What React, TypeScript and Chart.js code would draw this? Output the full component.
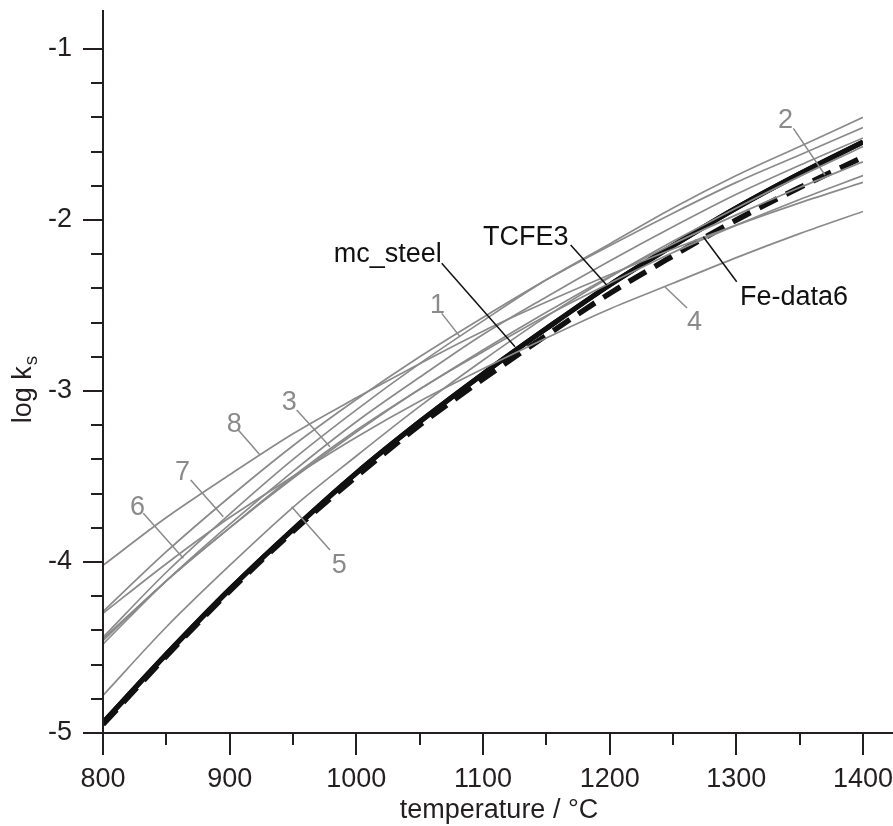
import { useEffect, useRef } from "react";
import { Chart, registerables } from "chart.js";

Chart.register(...registerables);

// temperature / °C
const temps = [800, 850, 900, 950, 1000, 1050, 1100, 1150, 1200, 1250, 1300, 1350, 1400];

// gray curves 1..8 (log ks)
const curve1 = [-4.29, -3.94, -3.62, -3.32, -3.05, -2.8, -2.57, -2.35, -2.15, -1.96, -1.78, -1.62, -1.46];
const curve2 = [-4.46, -4.11, -3.8, -3.5, -3.23, -2.99, -2.76, -2.54, -2.33, -2.14, -1.97, -1.81, -1.66];
const curve3 = [-4.48, -4.11, -3.78, -3.47, -3.18, -2.92, -2.67, -2.45, -2.24, -2.04, -1.85, -1.68, -1.52];
const curve4 = [-4.3, -4.01, -3.74, -3.5, -3.27, -3.06, -2.87, -2.69, -2.52, -2.37, -2.22, -2.08, -1.95];
const curve5 = [-4.78, -4.38, -4.02, -3.68, -3.38, -3.09, -2.82, -2.565, -2.335, -2.125, -1.93, -1.745, -1.57];
const curve6 = [-4.44, -4.06, -3.72, -3.4, -3.11, -2.84, -2.59, -2.35, -2.14, -1.93, -1.74, -1.57, -1.4];
const curve7 = [-4.45, -4.11, -3.8, -3.51, -3.24, -2.99, -2.77, -2.56, -2.37, -2.19, -2.03, -1.88, -1.74];
const curve8 = [-4.02, -3.74, -3.49, -3.25, -3.04, -2.84, -2.65, -2.48, -2.32, -2.17, -2.03, -1.9, -1.78];

// black curves
const mcSteel = [-4.94, -4.54, -4.16, -3.81, -3.48, -3.18, -2.9, -2.635, -2.38, -2.15, -1.93, -1.73, -1.544];
const tcfe3 = [-4.94, -4.54, -4.16, -3.81, -3.48, -3.18, -2.9, -2.635, -2.38, -2.15, -1.93, -1.73, -1.544];
const feData6 = [-4.95, -4.55, -4.17, -3.82, -3.5, -3.2, -2.93, -2.675, -2.43, -2.21, -2.0, -1.81, -1.632];

// axes
const xMajorTicks = [800, 900, 1000, 1100, 1200, 1300, 1400];
const xMinorTicks = [850, 950, 1050, 1150, 1250, 1350];
const yMajorTicks = [-5, -4, -3, -2, -1];
const yMinorTicks = [-4.8, -4.6, -4.4, -4.2, -3.8, -3.6, -3.4, -3.2, -2.8, -2.6, -2.4, -2.2, -1.8, -1.6, -1.4, -1.2];

// curve labels: text position (data), leader from (x1,y1) to (x2,y2), in data units
const grayLabels = [
  { text: "1", tx: 1058.2, ty: -2.544, x1: 1067.4, y1: -2.546, x2: 1081.8, y2: -2.682 },
  { text: "2", tx: 1332.9, ty: -1.462, x1: 1345.0, y1: -1.464, x2: 1370.0, y2: -1.737 },
  { text: "3", tx: 941.1, ty: -3.111, x1: 952.9, y1: -3.111, x2: 979.2, y2: -3.326 },
  { text: "4", tx: 1261.1, ty: -2.643, x1: 1261.1, y1: -2.515, x2: 1243.7, y2: -2.392 },
  { text: "5", tx: 980.5, ty: -4.064, x1: 979.2, y1: -3.93, x2: 948.9, y2: -3.677 },
  { text: "6", tx: 821.3, ty: -3.725, x1: 831.8, y1: -3.715, x2: 863.4, y2: -3.978 },
  { text: "7", tx: 856.8, ty: -3.52, x1: 869.2, y1: -3.52, x2: 895.0, y2: -3.735 },
  { text: "8", tx: 897.7, ty: -3.24, x1: 906.8, y1: -3.228, x2: 924.0, y2: -3.374 },
];
const blackLabels = [
  { text: "mc_steel", align: "right", tx: 1067.4, ty: -2.246, x1: 1067.4, y1: -2.253, x2: 1125.3, y2: -2.741 },
  { text: "TCFE3", align: "left", tx: 1100.0, ty: -2.146, x1: 1169.2, y1: -2.146, x2: 1197.6, y2: -2.38 },
  { text: "Fe-data6", align: "left", tx: 1302.9, ty: -2.497, x1: 1300.3, y1: -2.361, x2: 1273.9, y2: -2.098 },
];

const FONT = '"Liberation Sans", Arial, Helvetica, sans-serif';
const GRAY = "#8a8a8a";
const INK = "#231f20";
const FS = 27;

const pts = (vals: number[]) => temps.map((t, i) => ({ x: t, y: vals[i] }));

const grayDs = (vals: number[], name: string) => ({
  label: name,
  data: pts(vals),
  borderColor: GRAY,
  borderWidth: 1.7,
  pointRadius: 0,
  cubicInterpolationMode: "monotone" as const,
  fill: false,
});

const zeroPad = (s: any) => {
  s.paddingLeft = 0;
  s.paddingRight = 0;
  s.paddingTop = 0;
  s.paddingBottom = 0;
};

const decorPlugin = {
  id: "decor",
  afterDraw(chart: any) {
    const ctx = chart.ctx as CanvasRenderingContext2D;
    const xs = chart.scales.x;
    const ys = chart.scales.y;
    const { left, top, bottom } = chart.chartArea;
    ctx.save();
    ctx.lineCap = "butt";
    ctx.strokeStyle = INK;
    ctx.lineWidth = 2;
    // axis lines
    ctx.beginPath();
    ctx.moveTo(left, top);
    ctx.lineTo(left, bottom);
    ctx.moveTo(left, bottom);
    ctx.lineTo(chart.width, bottom);
    ctx.stroke();
    // ticks
    ctx.beginPath();
    xMajorTicks.forEach((v) => {
      const p = Math.round(xs.getPixelForValue(v));
      ctx.moveTo(p, bottom);
      ctx.lineTo(p, bottom + 22);
    });
    xMinorTicks.forEach((v) => {
      const p = Math.round(xs.getPixelForValue(v));
      ctx.moveTo(p, bottom);
      ctx.lineTo(p, bottom + 12);
    });
    yMajorTicks.forEach((v) => {
      const p = Math.round(ys.getPixelForValue(v));
      ctx.moveTo(left, p);
      ctx.lineTo(left - 20, p);
    });
    yMinorTicks.forEach((v) => {
      const p = Math.round(ys.getPixelForValue(v));
      ctx.moveTo(left, p);
      ctx.lineTo(left - 12, p);
    });
    ctx.stroke();

    // curve labels
    ctx.font = `${FS}px ${FONT}`;
    ctx.textBaseline = "alphabetic";
    ctx.lineWidth = 1.5;
    grayLabels.forEach((l) => {
      ctx.strokeStyle = GRAY;
      ctx.fillStyle = GRAY;
      ctx.beginPath();
      ctx.moveTo(xs.getPixelForValue(l.x1), ys.getPixelForValue(l.y1));
      ctx.lineTo(xs.getPixelForValue(l.x2), ys.getPixelForValue(l.y2));
      ctx.stroke();
      ctx.textAlign = "left";
      ctx.fillText(l.text, xs.getPixelForValue(l.tx), ys.getPixelForValue(l.ty));
    });
    blackLabels.forEach((l) => {
      ctx.strokeStyle = "#111";
      ctx.fillStyle = "#111";
      ctx.beginPath();
      ctx.moveTo(xs.getPixelForValue(l.x1), ys.getPixelForValue(l.y1));
      ctx.lineTo(xs.getPixelForValue(l.x2), ys.getPixelForValue(l.y2));
      ctx.stroke();
      ctx.textAlign = l.align as CanvasTextAlign;
      ctx.fillText(l.text, xs.getPixelForValue(l.tx), ys.getPixelForValue(l.ty));
    });

    // axis titles
    ctx.fillStyle = INK;
    ctx.textAlign = "center";
    ctx.font = `${FS}px ${FONT}`;
    ctx.fillText("temperature / °C", 499, 818);

    ctx.translate(31, 390);
    ctx.rotate(-Math.PI / 2);
    const main = "log k";
    ctx.font = `${FS}px ${FONT}`;
    const w1 = ctx.measureText(main).width;
    ctx.font = `19px ${FONT}`;
    const w2 = ctx.measureText("s").width;
    const start = -(w1 + w2) / 2;
    ctx.textAlign = "left";
    ctx.font = `${FS}px ${FONT}`;
    ctx.fillText(main, start, 0);
    ctx.font = `19px ${FONT}`;
    ctx.fillText("s", start + w1 + 1, 6);
    ctx.restore();
  },
};

export default function App() {
  const ref = useRef<HTMLCanvasElement | null>(null);
  useEffect(() => {
    if (!ref.current) return;
    const chart = new Chart(ref.current, {
      type: "line",
      data: {
        datasets: [
          grayDs(curve1, "1"),
          grayDs(curve2, "2"),
          grayDs(curve3, "3"),
          grayDs(curve4, "4"),
          grayDs(curve5, "5"),
          grayDs(curve6, "6"),
          grayDs(curve7, "7"),
          grayDs(curve8, "8"),
          {
            label: "Fe-data6",
            data: pts(feData6),
            borderColor: "#111",
            borderWidth: 5.5,
            borderDash: [20, 10],
            pointRadius: 0,
            cubicInterpolationMode: "monotone",
            fill: false,
          },
          {
            label: "TCFE3",
            data: pts(tcfe3),
            borderColor: "#111",
            borderWidth: 5,
            pointRadius: 0,
            cubicInterpolationMode: "monotone",
            fill: false,
          },
          {
            label: "mc_steel",
            data: pts(mcSteel),
            borderColor: "#111",
            borderWidth: 5,
            pointRadius: 0,
            cubicInterpolationMode: "monotone",
            fill: false,
          },
        ] as any,
      },
      options: {
        animation: false,
        responsive: false,
        layout: { padding: { left: 0, right: 30, top: 10, bottom: 0 } },
        plugins: { legend: { display: false }, tooltip: { enabled: false } },
        scales: {
          x: {
            type: "linear",
            min: 800,
            max: 1400,
            grid: { display: false, drawTicks: false },
            border: { display: false },
            afterBuildTicks: (s: any) => {
              s.ticks = xMajorTicks.map((v) => ({ value: v }));
            },
            afterFit: (s: any) => {
              s.height = 93;
              zeroPad(s);
            },
            ticks: {
              font: { size: FS, family: FONT },
              color: INK,
              padding: 30,
              maxRotation: 0,
              autoSkip: false,
              callback: (v: any) => String(v),
            },
          },
          y: {
            type: "linear",
            min: -5,
            max: -0.772,
            grid: { display: false, drawTicks: false },
            border: { display: false },
            afterBuildTicks: (s: any) => {
              s.ticks = yMajorTicks.map((v) => ({ value: v }));
            },
            afterFit: (s: any) => {
              s.width = 103;
              zeroPad(s);
            },
            ticks: {
              font: { size: FS, family: FONT },
              color: INK,
              padding: 31,
              autoSkip: false,
              callback: (v: any) => String(v),
            },
          },
        },
      },
      plugins: [decorPlugin],
    });
    return () => chart.destroy();
  }, []);
  return (
    <div style={{ position: "absolute", left: 0, top: 0, width: 893, height: 826, background: "#fff" }}>
      <canvas ref={ref} width={893} height={826} style={{ display: "block" }} />
    </div>
  );
}
